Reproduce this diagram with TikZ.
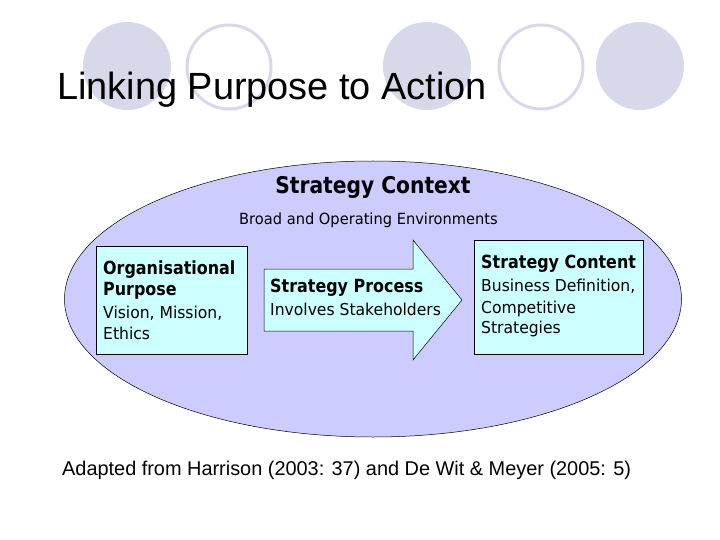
\documentclass[tikz,border=0pt]{standalone}
\usepackage{fontspec}
\setmainfont{Liberation Sans}
\newfontfamily\tahoma[FakeStretch=0.95]{DejaVu Sans}
\newfontfamily\tahomabold[FakeStretch=0.88]{DejaVu Sans Bold}
\usepackage{tikz}
\usetikzlibrary{shapes.geometric}
\definecolor{bubble}{RGB}{216,216,235}
\definecolor{lavender}{RGB}{204,204,255}
\definecolor{paleblue}{RGB}{204,255,255}
\tikzset{dot/.style={fill=bubble, draw=none},
  ring/.style={draw=bubble, line width=3pt, fill=white},
  panel/.style={draw=black, fill=paleblue, line width=0.6pt, inner sep=0pt},
  head/.style={font=\tahomabold\fontsize{18.1}{21}\selectfont, anchor=base west, inner sep=0pt},
  body/.style={font=\tahoma\fontsize{16.4}{19}\selectfont, anchor=base west, inner sep=0pt}}

\begin{document}
\begin{tikzpicture}[x=1pt, y=-1pt]
	\useasboundingbox (0,0) rectangle (720,540);

	\fill[dot] (127,66) circle (44);
	\draw[ring] (229,67) circle (42);
	\fill[dot] (427,66) circle (44);
	\draw[ring] (541,67) circle (42);
	\fill[dot] (640,66) circle (44);

	\node[anchor = base west, inner sep=0pt, font=\fontsize{37.9}{44}\selectfont] (title) at (57,100) {Linking Purpose to Action};

	\node[draw, ellipse, fill=lavender, line width=0.5pt, inner sep=0pt, minimum width=617pt, minimum height=276pt] (context) at (373,299) {};

	\node[anchor = base, inner sep=0pt, font=\tahomabold\fontsize{23}{27}\selectfont] (ctxhead) at (373,194) {Strategy Context};
	\node[anchor = base, inner sep=0pt, font=\tahoma\fontsize{15.4}{18}\selectfont] (ctxbody) at (368.5,225) {Broad and Operating Environments};

	% left box
	\node[panel, minimum width=151pt, minimum height=108pt] (purpose) at (171.5,300) {};
	\node[head] (purpose1) at (103,274) {Organisational};
	\node[head] (purpose2) at (103,295) {Purpose};
	\node[body] (purpose3) at (103,318) {Vision, Mission,};
	\node[body] (purpose4) at (103,339) {Ethics};

	% arrow
	\draw[fill=paleblue, line width=0.5pt] (264,269) -- (413,269) -- (413,240) -- (462,300) -- (413,360) -- (413,331) -- (264,331) -- cycle;
	\node[head] (process1) at (270,292) {Strategy Process};
	\node[body] (process2) at (270,315) {Involves Stakeholders};

	% right box
	\node[panel, minimum width=169pt, minimum height=114pt] (content) at (558.5,297) {};
	\node[head] (content1) at (481,268) {Strategy Content};
	\node[body] (content2) at (481,291) {Business Definition,};
	\node[body] (content3) at (481,313) {Competitive};
	\node[body] (content4) at (481,333) {Strategies};

	\node[anchor = base west, inner sep=0pt, font=\fontsize{19.9}{24}\selectfont] (source) at (62,475) {Adapted from Harrison (2003: 37) and De Wit \& Meyer (2005: 5)};
\end{tikzpicture}
\end{document}
